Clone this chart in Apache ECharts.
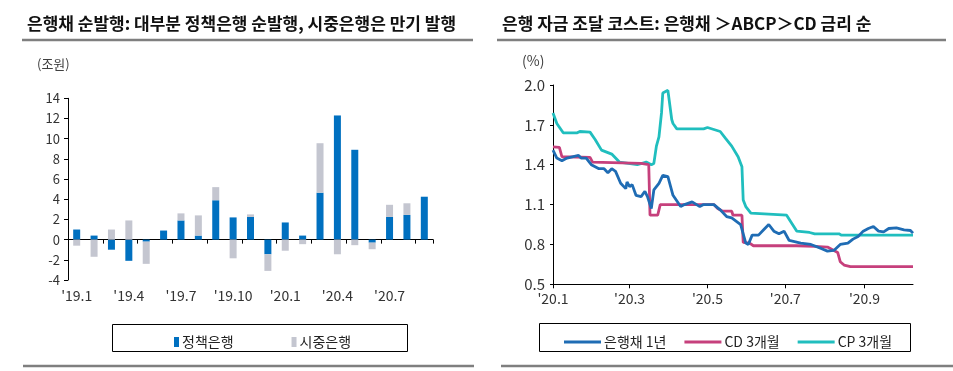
<!DOCTYPE html>
<html><head><meta charset="utf-8">
<script src="https://cdn.jsdelivr.net/npm/echarts@6/dist/echarts.min.js"></script>
<style>html,body{margin:0;padding:0;background:#fff}#c{width:953px;height:371px}</style>
</head><body><div id="c"></div>
<script>
// ---- Left chart data (조원) ----
const months = ["'19.1","'19.2","'19.3","'19.4","'19.5","'19.6","'19.7","'19.8","'19.9","'19.10","'19.11","'19.12",
                "'20.1","'20.2","'20.3","'20.4","'20.5","'20.6","'20.7","'20.8","'20.9"];
const policyBank = [1.0, 0.4, -1.0, -2.1, -0.2, 0.9, 1.9, 0.4, 3.9, 2.2, 2.25, -1.45, 1.7, 0.4, 4.65, 12.3, 8.9, -0.3, 2.25, 2.45, 4.25];
const commercialBank = [-0.6, -1.7, 1.0, 1.9, -2.2, 0, 0.7, 2.0, 1.3, -1.85, 0.25, -1.65, -1.1, -0.45, 4.9, -1.45, -0.55, -0.65, 1.2, 1.15, 0];
const leftTicks = [-4, -2, 0, 2, 4, 6, 8, 10, 12, 14];

// ---- Right chart data (%) ----
const bankDates = ['2020-01-01','2020-01-04','2020-01-08','2020-01-12','2020-01-21','2020-01-23','2020-01-27','2020-01-31',
 '2020-02-06','2020-02-10','2020-02-13','2020-02-16','2020-02-19','2020-02-23','2020-02-27','2020-02-28',
 '2020-03-01','2020-03-03','2020-03-06','2020-03-10','2020-03-13','2020-03-15','2020-03-18','2020-03-20','2020-03-24','2020-03-27','2020-03-31',
 '2020-04-04','2020-04-10','2020-04-13','2020-04-19','2020-04-25','2020-04-28',
 '2020-05-06','2020-05-11','2020-05-16','2020-05-20','2020-05-27','2020-05-31',
 '2020-06-02','2020-06-05','2020-06-10','2020-06-14','2020-06-18','2020-06-22','2020-06-26','2020-06-30',
 '2020-07-04','2020-07-09','2020-07-13','2020-07-21','2020-07-29',
 '2020-08-03','2020-08-08','2020-08-13','2020-08-19','2020-08-23','2020-08-27','2020-08-31',
 '2020-09-04','2020-09-08','2020-09-12','2020-09-16','2020-09-20','2020-09-26',
 '2020-10-02','2020-10-07','2020-10-09'];
const bankRate = [1.51,1.45,1.43,1.45,1.47,1.45,1.45,1.40,
 1.37,1.37,1.34,1.37,1.35,1.26,1.22,1.27,
 1.235,1.25,1.17,1.16,1.20,1.16,1.07,1.21,1.26,1.32,1.31,
 1.17,1.085,1.10,1.12,1.085,1.10,
 1.10,1.06,1.01,1.00,0.95,0.81,
 0.80,0.87,0.87,0.91,0.95,0.90,0.88,0.90,
 0.83,0.82,0.81,0.80,0.77,
 0.75,0.755,0.80,0.81,0.84,0.86,0.90,
 0.92,0.935,0.90,0.895,0.92,0.925,
 0.91,0.905,0.885];

const cdDates = ['2020-01-01','2020-01-06','2020-01-08','2020-01-30','2020-02-01','2020-03-10','2020-03-16','2020-03-17',
 '2020-03-23','2020-03-25','2020-05-06','2020-05-09','2020-05-13','2020-05-20','2020-05-21','2020-05-28','2020-05-29',
 '2020-06-03','2020-06-06','2020-07-10','2020-07-24','2020-08-03','2020-08-07','2020-08-11','2020-08-13','2020-08-16',
 '2020-08-21','2020-10-09'];
const cdRate = [1.535,1.53,1.46,1.455,1.42,1.41,1.40,1.02,
 1.02,1.10,1.10,1.07,1.05,1.05,1.02,1.02,0.815,
 0.81,0.79,0.79,0.785,0.78,0.76,0.74,0.67,0.645,
 0.633,0.633];

const cpDates = ['2020-01-01','2020-01-04','2020-01-09','2020-01-20','2020-01-22','2020-01-30','2020-02-03','2020-02-08',
 '2020-02-16','2020-02-22','2020-03-07','2020-03-14','2020-03-18','2020-03-20','2020-03-22','2020-03-24','2020-03-26',
 '2020-03-27','2020-03-31','2020-04-01','2020-04-03','2020-04-04','2020-04-07','2020-04-10','2020-04-28','2020-05-01',
 '2020-05-11','2020-05-15','2020-05-20','2020-05-25','2020-05-28','2020-05-29','2020-05-31','2020-06-04','2020-07-02',
 '2020-07-06','2020-07-10','2020-07-20','2020-07-24','2020-08-12','2020-08-14','2020-10-09'];
const cpRate = [1.79,1.71,1.64,1.64,1.65,1.645,1.59,1.51,
 1.48,1.42,1.40,1.42,1.40,1.41,1.54,1.61,1.79,
 1.94,1.96,1.96,1.74,1.71,1.67,1.67,1.67,1.68,
 1.65,1.60,1.54,1.46,1.385,1.135,1.085,1.035,1.02,
 0.96,0.90,0.89,0.88,0.88,0.87,0.87];

const rightTicks = [0.5, 0.8, 1.1, 1.4, 1.7, 2.0];
const rightLabelDates = ['2020-01-01','2020-03-01','2020-05-01','2020-07-01','2020-09-01'];
const rightStart = '2020-01-01', rightEnd = '2020-10-09';

// ---- build ----
function ts(s){ const p = s.split('-').map(Number); return new Date(p[0], p[1]-1, p[2]).getTime(); }
function pairs(d, v){ return d.map((x,i)=>[ts(x), v[i]]); }

const FONT = '"Noto Sans CJK KR", "Noto Sans", sans-serif';
const BLUE = '#0070C0', GREY = '#C4C6D0';
const C_BANK = '#1F6CB4', C_CD = '#C6407C', C_CP = '#20BEBE';

const chart = echarts.init(document.getElementById('c'), null, {renderer:'canvas'});
chart.setOption({
  animation: false,
  textStyle: {fontFamily: FONT},
  title: [
    {text: '은행채 순발행: 대부분 정책은행 순발행, 시중은행은 만기 발행', left: 22, top: 10,
     textStyle: {fontFamily: FONT, fontSize: 17, fontWeight: 'bold', color: '#111'}},
    {text: '은행 자금 조달 코스트: 은행채 ＞ABCP＞CD 금리 순', left: 497, top: 10,
     textStyle: {fontFamily: FONT, fontSize: 17, fontWeight: 'bold', color: '#111'}}
  ],
  graphic: [
    {type:'line', shape:{x1:22,y1:40,x2:473,y2:40}, style:{stroke:'#7f7f7f', lineWidth:2.5}},
    {type:'line', shape:{x1:497,y1:40,x2:946,y2:40}, style:{stroke:'#7f7f7f', lineWidth:2.5}},
    {type:'line', shape:{x1:23,y1:366,x2:474,y2:366}, style:{stroke:'#7f7f7f', lineWidth:2.5}},
    {type:'line', shape:{x1:501,y1:366,x2:953,y2:366}, style:{stroke:'#7f7f7f', lineWidth:2.5}},
    {type:'rect', shape:{x:112.5,y:324.5,width:295,height:27}, style:{fill:'none', stroke:'#000', lineWidth:1}},
    {type:'rect', shape:{x:539.5,y:323.5,width:371,height:28}, style:{fill:'none', stroke:'#000', lineWidth:1}},
    {type:'text', left: 37, top: 58, style:{text:'(조원)', fontFamily: FONT, fontSize: 13, fill:'#404040'}},
    {type:'text', left: 522, top: 54, style:{text:'(%)', fontFamily: FONT, fontSize: 14, fill:'#404040'}}
  ],
  legend: [
    {data:['정책은행','시중은행'], left: 169, top: 330, itemWidth: 5, itemHeight: 10, itemGap: 58, icon: 'rect',
     textStyle:{fontFamily: FONT, fontSize: 14, color:'#222', padding:[0,0,0,-2]}},
    {data:['은행채 1년','CD 3개월','CP 3개월'], left: 559, top: 330, itemWidth: 37, itemHeight: 3, itemGap: 18, icon: 'rect',
     textStyle:{fontFamily: FONT, fontSize: 14, color:'#222', padding:[0,0,0,-2]}}
  ],
  grid: [
    {left: 68, right: 520, top: 98.3, bottom: 91},
    {left: 553, right: 40, top: 85, bottom: 86.7}
  ],
  xAxis: [
    {type:'category', gridIndex:0, data: months, boundaryGap: true,
     axisLine:{onZero:true, lineStyle:{color:'#000', width:1}},
     axisTick:{show:true, interval:1, length:4, lineStyle:{color:'#000'}},
     axisLabel:{show:false}},
    {type:'category', gridIndex:0, data: months, position:'bottom', boundaryGap: true,
     axisLine:{show:false, onZero:false}, axisTick:{show:false},
     axisLabel:{interval:2, fontSize:14, color:'#333', margin:9, fontFamily: FONT}},
    {type:'value', gridIndex:1, min: ts(rightStart), max: ts(rightEnd), scale: true,
     axisLine:{onZero:false, lineStyle:{color:'#000', width:1}},
     axisTick:{show:true, length:4, lineStyle:{color:'#000'}, customValues: rightLabelDates.map(ts)},
     axisLabel:{customValues: rightLabelDates.map(ts), fontSize:14, color:'#333', margin:7, fontFamily: FONT,
       formatter: v => "'" + String(new Date(v).getFullYear()).slice(2) + '.' + (new Date(v).getMonth()+1)},
     splitLine:{show:false}}
  ],
  yAxis: [
    {type:'value', gridIndex:0, min: leftTicks[0], max: leftTicks[leftTicks.length-1], interval: 2,
     axisLine:{show:true, lineStyle:{color:'#000'}}, axisTick:{show:true, length:4, lineStyle:{color:'#000'}},
     axisLabel:{fontSize:13, color:'#333', margin:8, fontFamily: FONT}, splitLine:{show:false}},
    {type:'value', gridIndex:1, min: rightTicks[0], max: rightTicks[rightTicks.length-1],
     axisLine:{show:true, onZero:false, lineStyle:{color:'#000'}},
     axisTick:{show:true, length:3, lineStyle:{color:'#000'}, customValues: rightTicks},
     axisLabel:{customValues: rightTicks, fontSize:15, color:'#333', margin:8, fontFamily: FONT, formatter: v => v.toFixed(1)},
     splitLine:{show:false}}
  ],
  series: [
    {name:'정책은행', type:'bar', xAxisIndex:0, yAxisIndex:0, stack:'a', data: policyBank, barWidth: 7,
     itemStyle:{color: BLUE}},
    {name:'시중은행', type:'bar', xAxisIndex:0, yAxisIndex:0, stack:'a', data: commercialBank, barWidth: 7,
     itemStyle:{color: GREY}},
    {name:'은행채 1년', type:'line', xAxisIndex:2, yAxisIndex:1, data: pairs(bankDates, bankRate), symbol:'none',
     lineStyle:{color: C_BANK, width: 2.8}, itemStyle:{color: C_BANK}, z: 4},
    {name:'CD 3개월', type:'line', xAxisIndex:2, yAxisIndex:1, data: pairs(cdDates, cdRate), symbol:'none',
     lineStyle:{color: C_CD, width: 2.8}, itemStyle:{color: C_CD}, z: 3},
    {name:'CP 3개월', type:'line', xAxisIndex:2, yAxisIndex:1, data: pairs(cpDates, cpRate), symbol:'none',
     lineStyle:{color: C_CP, width: 2.8}, itemStyle:{color: C_CP}, z: 2}
  ]
});
</script></body></html>
